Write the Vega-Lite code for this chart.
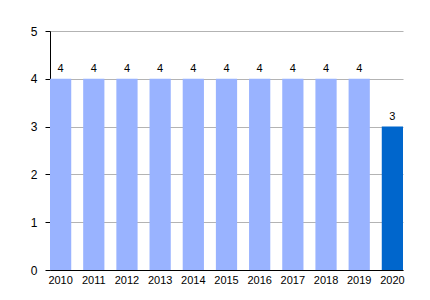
{
  "$schema": "https://vega.github.io/schema/vega-lite/v6.json",
  "width": 353,
  "height": 239,
  "autosize": {"type": "none"},
  "padding": {"left": 50, "top": 31, "right": 27, "bottom": 30},
  "data": {"values": [
    {"year": "2010", "value": 4, "hl": "a"},
    {"year": "2011", "value": 4, "hl": "a"},
    {"year": "2012", "value": 4, "hl": "a"},
    {"year": "2013", "value": 4, "hl": "a"},
    {"year": "2014", "value": 4, "hl": "a"},
    {"year": "2015", "value": 4, "hl": "a"},
    {"year": "2016", "value": 4, "hl": "a"},
    {"year": "2017", "value": 4, "hl": "a"},
    {"year": "2018", "value": 4, "hl": "a"},
    {"year": "2019", "value": 4, "hl": "a"},
    {"year": "2020", "value": 3, "hl": "b"}
  ]},
  "config": {
    "view": {"stroke": null},
    "font": "Liberation Sans",
    "axis": {"labelFont": "Liberation Sans", "labelFontSize": 11, "labelColor": "#000000", "domainColor": "#000000", "title": null}
  },
  "encoding": {
    "x": {"field": "year", "type": "nominal", "sort": null,
      "scale": {"paddingInner": 0.36, "paddingOuter": 0},
      "axis": {"labelAngle": 0, "ticks": false, "labelPadding": 4, "domainColor": "#000000"}},
    "y": {"field": "value", "type": "quantitative",
      "scale": {"domain": [0, 5], "nice": false},
      "axis": {"values": [0, 1, 2, 3, 4, 5], "labelOverlap": false, "tickSize": 5, "tickColor": "#000000", "labelPadding": 8, "gridColor": "#b3b3b3", "labelFontSize": 12}}
  },
  "layer": [
    {"mark": {"type": "bar"},
     "encoding": {"color": {"field": "hl", "type": "nominal", "legend": null,
        "scale": {"domain": ["a", "b"], "range": ["#99b3ff", "#0066cc"]}}}},
    {"mark": {"type": "text", "dy": -5, "fontSize": 11, "color": "#000000", "baseline": "bottom"},
     "encoding": {"text": {"field": "value", "type": "quantitative"}}}
  ]
}
